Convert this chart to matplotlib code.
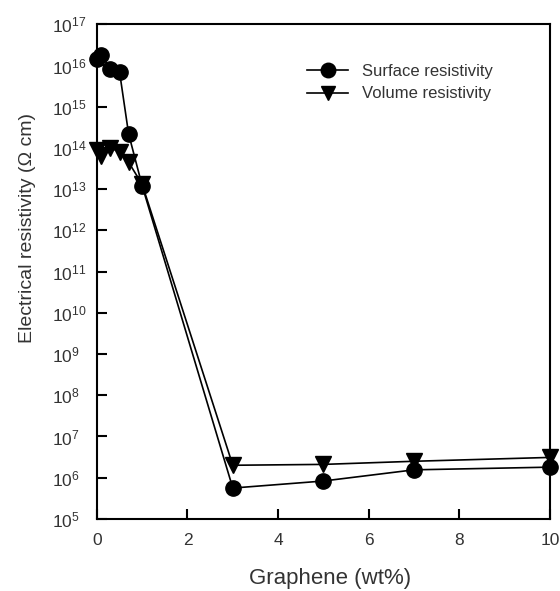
import matplotlib
matplotlib.use("Agg")
import matplotlib.pyplot as plt
from matplotlib.ticker import NullLocator, FixedLocator

plt.rcParams['font.family'] = ['Liberation Sans', 'DejaVu Sans']
plt.rcParams['mathtext.fontset'] = 'custom'
plt.rcParams['mathtext.rm'] = 'Liberation Sans'
plt.rcParams['mathtext.it'] = 'Liberation Sans'
plt.rcParams['mathtext.bf'] = 'Liberation Sans'

graphene = [0, 0.1, 0.3, 0.5, 0.7, 1.0, 3, 5, 7, 10]
surface = [1.4e16, 1.8e16, 8e15, 7e15, 2.2e14, 1.2e13, 5.6e5, 8.3e5, 1.55e6, 1.8e6]
volume = [9e13, 6.5e13, 1.0e14, 8e13, 4.5e13, 1.3e13, 2.0e6, 2.1e6, 2.5e6, 3.1e6]

x_ticks = [0, 2, 4, 6, 8, 10]
y_exps = list(range(5, 18))

fig = plt.figure(figsize=(5.6, 5.91), dpi=100)
ax = fig.add_axes([0.173, 0.122, 0.809, 0.837])

ax.plot(graphene, surface, color='black', lw=1.2, marker='o', ms=11,
        label='Surface resistivity', zorder=3, clip_on=False)
ax.plot(graphene, volume, color='black', lw=1.2, marker='v', ms=11,
        label='Volume resistivity', zorder=3, clip_on=False)

ax.set_yscale('log')
ax.set_ylim(1e5, 1e17)
ax.set_xlim(0, 10)
ax.yaxis.set_major_locator(FixedLocator([10.0**e for e in y_exps]))
ax.set_yticklabels([r'$10^{%d}$' % e for e in y_exps])
ax.yaxis.set_minor_locator(NullLocator())
ax.set_xticks(x_ticks)
ax.set_xticklabels([str(t) for t in x_ticks])

txt = '#333333'
ax.tick_params(axis='both', direction='in', length=7, width=1.5, labelsize=12.5,
               colors='black', labelcolor=txt, top=False, right=False)
ax.tick_params(axis='x', pad=10)
ax.tick_params(axis='y', pad=32)
for lab in ax.get_yticklabels():
    lab.set_horizontalalignment('left')
for s in ax.spines.values():
    s.set_linewidth(1.5)

ax.set_xlabel('Graphene (wt%)', fontsize=16, color=txt)
ax.xaxis.set_label_coords(0.514, -0.099)
ax.set_ylabel('Electrical resistivity (\u03a9 cm)', fontsize=14, color=txt)
ax.yaxis.set_label_coords(-0.135, 0.588)

leg = ax.legend(loc='upper left', bbox_to_anchor=(0.43, 0.95), frameon=False,
                fontsize=12, handlelength=2.5, labelspacing=0.45, handletextpad=0.8,
                markerscale=0.95)
for t in leg.get_texts():
    t.set_color(txt)

fig.savefig('out.png', dpi=100)
